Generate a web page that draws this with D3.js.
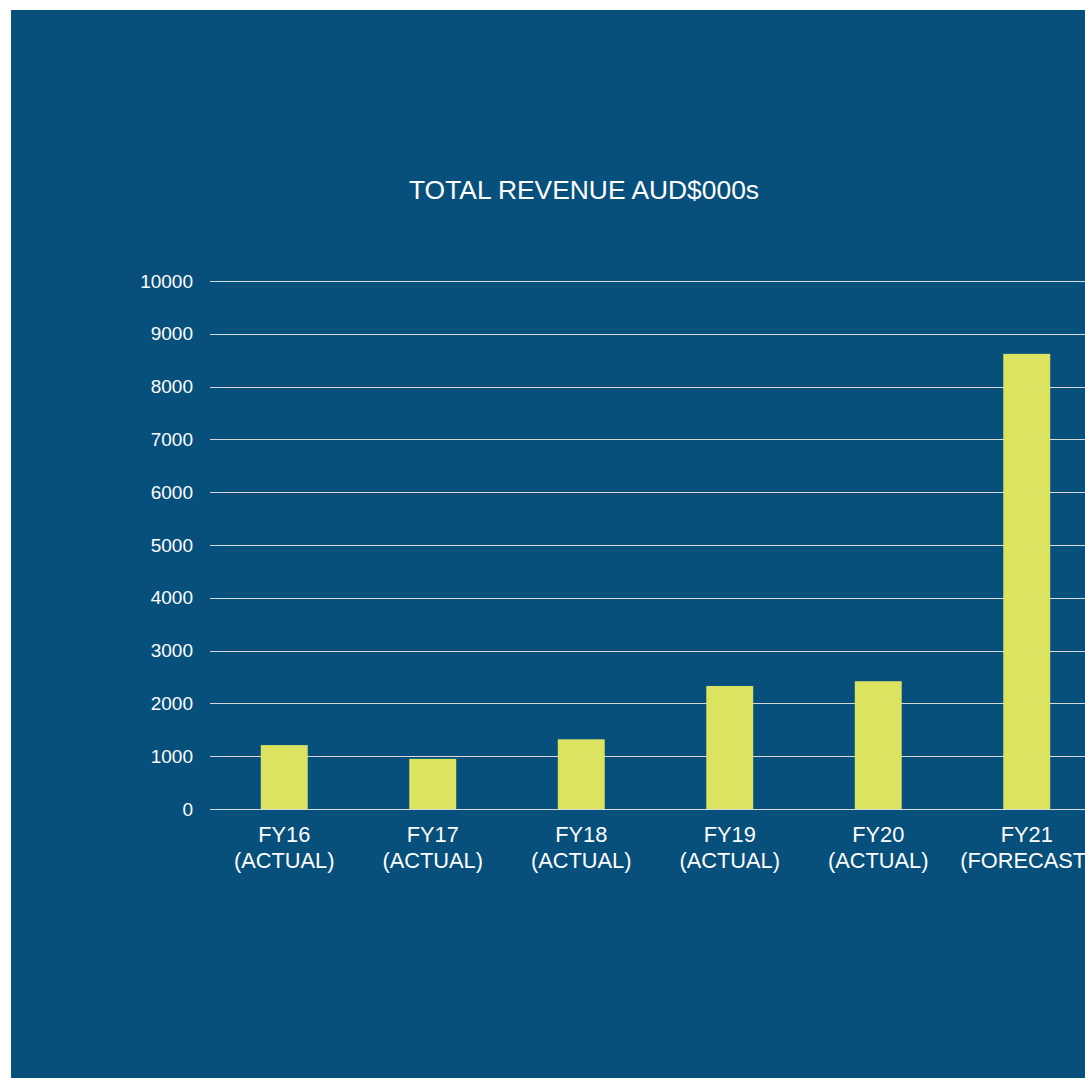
<!DOCTYPE html>
<html>
<head>
<meta charset="utf-8">
<script src="https://cdn.jsdelivr.net/npm/d3@7"></script>
<style>
  body { margin: 0; background: #fff; }
  svg { display: block; }
</style>
</head>
<body>
<div id="chart"></div>
<script>
// Chart data
const years = ["FY16", "FY17", "FY18", "FY19", "FY20", "FY21"];
const kinds = ["(ACTUAL)", "(ACTUAL)", "(ACTUAL)", "(ACTUAL)", "(ACTUAL)", "(FORECAST)"];
const revenue = [1210, 950, 1320, 2330, 2420, 8620];
const yTicks = [0, 1000, 2000, 3000, 4000, 5000, 6000, 7000, 8000, 9000, 10000];

const W = 1085, H = 1078;
const margin = { top: 281, right: -16, bottom: 269, left: 210 };
const width = W - margin.left - margin.right;
const height = H - margin.top - margin.bottom;

const svg = d3.select("#chart")
    .append("svg")
    .attr("width", W)
    .attr("height", H);

// Blue panel
svg.append("rect")
    .attr("x", 11)
    .attr("y", 10)
    .attr("width", W - 11)
    .attr("height", 1068)
    .attr("fill", "#07507c");

svg.append("text")
    .attr("x", 584)
    .attr("y", 199)
    .attr("text-anchor", "middle")
    .attr("fill", "#ffffff")
    .style("font-family", "Liberation Sans, Arial, sans-serif")
    .style("font-size", "26.4px")
    .text("TOTAL REVENUE AUD$000s");

const g = svg.append("g")
    .attr("transform", `translate(${margin.left},${margin.top})`);

const x = d3.scaleBand()
    .domain(years)
    .range([0, width])
    .padding(0);

const y = d3.scaleLinear()
    .domain([0, 10000])
    .range([height, 0]);

// Gridlines
g.selectAll(".grid")
    .data(yTicks)
    .enter().append("line")
    .attr("class", "grid")
    .attr("x1", 0)
    .attr("x2", width)
    .attr("y1", d => Math.round(y(d)) + 0.5)
    .attr("y2", d => Math.round(y(d)) + 0.5)
    .attr("stroke", "#d9d9d9")
    .attr("stroke-width", 1);

// Y tick labels
g.selectAll(".ytick")
    .data(yTicks)
    .enter().append("text")
    .attr("class", "ytick")
    .attr("x", -17)
    .attr("y", d => y(d))
    .attr("dy", "0.35em")
    .attr("text-anchor", "end")
    .attr("fill", "#ffffff")
    .style("font-family", "Liberation Sans, Arial, sans-serif")
    .style("font-size", "19px")
    .text(d => d);

// Bars
const barW = x.bandwidth() * 0.316;
g.selectAll(".bar")
    .data(years)
    .enter().append("rect")
    .attr("class", "bar")
    .attr("x", d => x(d) + (x.bandwidth() - barW) / 2)
    .attr("width", barW)
    .attr("y", (d, i) => y(revenue[i]))
    .attr("height", (d, i) => height - y(revenue[i]))
    .attr("fill", "#dce361");

// Category labels
const cat = g.selectAll(".cat")
    .data(years)
    .enter().append("text")
    .attr("class", "cat")
    .attr("text-anchor", "middle")
    .attr("fill", "#ffffff")
    .style("font-family", "Liberation Sans, Arial, sans-serif")
    .style("font-size", "21.8px");

cat.append("tspan")
    .attr("x", d => x(d) + x.bandwidth() / 2)
    .attr("y", height + 33)
    .text(d => d);

cat.append("tspan")
    .attr("x", d => x(d) + x.bandwidth() / 2)
    .attr("y", height + 59)
    .text((d, i) => kinds[i]);
</script>
</body>
</html>
